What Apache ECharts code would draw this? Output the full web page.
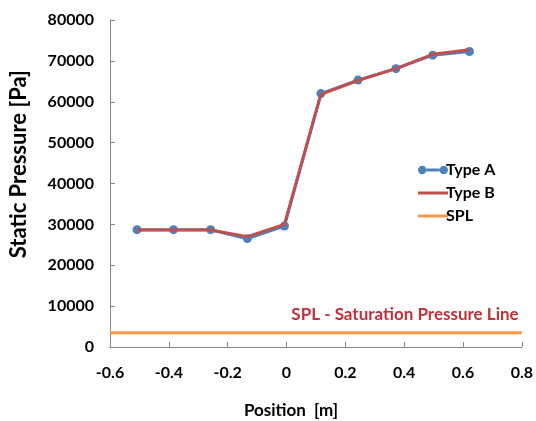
<!DOCTYPE html>
<html>
<head>
<meta charset="utf-8">
<script src="https://cdn.jsdelivr.net/npm/echarts@6/dist/echarts.min.js"></script>
<style>html,body{margin:0;padding:0;background:#fff}#c{width:536px;height:421px}</style>
</head>
<body>
<div id="c"></div>
<script>
const positions = [-0.508, -0.384, -0.258, -0.133, -0.007, 0.117, 0.243, 0.372, 0.497, 0.622];
const typeA = [28700, 28700, 28700, 26500, 29600, 62000, 65300, 68100, 71400, 72300];
const typeB = [28600, 28600, 28600, 27000, 30000, 61800, 65200, 68100, 71600, 72700];
const splX = [-0.6, 0.8];
const splY = [3500, 3500];
const seriesNames = ['Type A', 'Type B', 'SPL'];
const xTitle = 'Position  [m]';
const yTitle = 'Static Pressure [Pa]';
const noteText = 'SPL - Saturation Pressure Line';

const pair = (xs, ys) => xs.map((x, i) => [x, ys[i]]);
const FONT = 'Lato';
const ICON_A = 'path://M0,4.5 A4.5,4.5 0 1 1 9,4.5 A4.5,4.5 0 1 1 0,4.5 Z M23,4.5 A4.5,4.5 0 1 1 32,4.5 A4.5,4.5 0 1 1 23,4.5 Z M9,3 L23,3 L23,6 L9,6 Z';
const ICON_LINE = 'path://M0,0 L30,0 L30,3 L0,3 Z';
const chart = echarts.init(document.getElementById('c'));
chart.setOption({
  animation: false,
  backgroundColor: '#fff',
  grid: { left: 110, right: 12, top: 20, bottom: 74 },
  xAxis: {
    type: 'value', min: -0.6, max: 0.8, interval: 0.2,
    axisLine: { show: true, onZero: false, lineStyle: { color: '#868686', width: 1 } },
    axisTick: { show: true, inside: true, length: 5, lineStyle: { color: '#868686' } },
    splitLine: { show: false },
    axisLabel: { color: '#000', fontFamily: FONT, fontWeight: 'bold', fontSize: 16, margin: 18,
      formatter: v => String(+v.toFixed(1)) }
  },
  yAxis: {
    type: 'value', min: 0, max: 80000, interval: 10000,
    axisLine: { show: true, onZero: false, lineStyle: { color: '#868686', width: 1 } },
    axisTick: { show: true, inside: true, length: 5, lineStyle: { color: '#868686' } },
    splitLine: { show: false },
    axisLabel: { color: '#000', fontFamily: FONT, fontWeight: 'bold', fontSize: 16, margin: 16,
      formatter: v => String(v) }
  },
  legend: {
    orient: 'vertical', left: 413, top: 157, itemGap: 7, itemWidth: 30, itemHeight: 11,
    textStyle: { color: '#000', fontFamily: FONT, fontWeight: 'bold', fontSize: 16, padding: [0, 0, 0, -7] },
    data: [
      { name: seriesNames[0], icon: ICON_A },
      { name: seriesNames[1], icon: ICON_LINE },
      { name: seriesNames[2], icon: ICON_LINE }
    ]
  },
  graphic: [
    { type: 'text', left: 8, top: 70, rotation: Math.PI / 2, originX: 0, originY: 0,
      style: { text: yTitle, fill: '#000', font: 'bold 22px ' + FONT } },
    { type: 'text', x: 291, y: 411,
      style: { text: xTitle, fill: '#000', font: 'bold 17px ' + FONT, align: 'center', verticalAlign: 'middle' } },
    { type: 'text', x: 405, y: 315,
      style: { text: noteText, fill: '#C0313A', font: 'bold 17px ' + FONT, align: 'center', verticalAlign: 'middle' } }
  ],
  series: [
    { name: seriesNames[0], type: 'line', data: pair(positions, typeA), symbol: 'circle', symbolSize: 9,
      itemStyle: { color: '#4F81BD' }, lineStyle: { color: '#4F81BD', width: 3 }, z: 2 },
    { name: seriesNames[1], type: 'line', data: pair(positions, typeB), symbol: 'none',
      itemStyle: { color: '#C0504D' }, lineStyle: { color: '#C0504D', width: 3 }, z: 3 },
    { name: seriesNames[2], type: 'line', data: pair(splX, splY), symbol: 'none',
      itemStyle: { color: '#F79646' }, lineStyle: { color: '#F79646', width: 3 }, z: 2 }
  ]
});
</script>
</body>
</html>
